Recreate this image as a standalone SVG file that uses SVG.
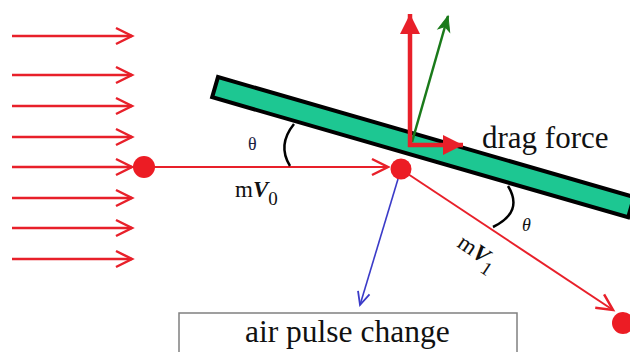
<svg xmlns="http://www.w3.org/2000/svg" width="630" height="352" viewBox="0 0 630 352">
<defs>
<style>
.flow{stroke:#e8202a;stroke-width:2.5;fill:none;marker-end:url(#chev)}
.ray{stroke:#e8202a;stroke-width:2;fill:none;marker-end:url(#chev)}
.dot{fill:#ec1c24}
.arc{stroke:#000;stroke-width:2.5;fill:none}
</style>
<marker id="chev" markerUnits="userSpaceOnUse" markerWidth="40" markerHeight="40" refX="0" refY="0" orient="auto" overflow="visible" viewBox="-20 -20 40 40">
<path d="M-16,-8 L0,0 L-16,8" fill="none" stroke="#e8202a" stroke-width="2.5" stroke-linejoin="miter"/>
</marker>
<marker id="chevB" markerUnits="userSpaceOnUse" markerWidth="40" markerHeight="40" refX="0" refY="0" orient="auto" overflow="visible" viewBox="-20 -20 40 40">
<path d="M-13,-6 L0,0 L-13,6" fill="none" stroke="#3b3bc8" stroke-width="1.8"/>
</marker>
<marker id="headR" markerUnits="userSpaceOnUse" markerWidth="40" markerHeight="40" refX="0" refY="0" orient="auto" overflow="visible" viewBox="-30 -20 40 40">
<path d="M-20,-10 L0,0 L-20,10 Z" fill="#e8202a"/>
</marker>
<marker id="headG" markerUnits="userSpaceOnUse" markerWidth="40" markerHeight="40" refX="0" refY="0" orient="auto" overflow="visible" viewBox="-30 -20 40 40">
<path d="M-15,-6 L0,0 L-15,6 L-11,0 Z" fill="#1a7a1a" stroke="#1a7a1a" stroke-width="1"/>
</marker>
</defs>
<rect width="630" height="352" fill="#fff"/>

<g id="plate">
<rect x="0" y="0" width="433" height="21" transform="translate(218,77) rotate(16.1)" fill="#1dc792" stroke="#000" stroke-width="4"/>
</g>

<g id="connectors">
<line class="flow" x1="12" y1="36" x2="132" y2="36"/>
<line class="flow" x1="12" y1="75" x2="132" y2="75"/>
<line class="flow" x1="12" y1="106" x2="132" y2="106"/>
<line class="flow" x1="12" y1="137" x2="132" y2="137"/>
<line class="flow" x1="12" y1="167" x2="132" y2="167"/>
<line class="flow" x1="12" y1="198" x2="132" y2="198"/>
<line class="flow" x1="12" y1="228" x2="132" y2="228"/>
<line class="flow" x1="12" y1="259" x2="132" y2="259"/>
<line class="ray" x1="144" y1="167" x2="388" y2="167"/>
<line class="ray" x1="408" y1="174" x2="613" y2="310"/>
<line x1="398" y1="179" x2="360" y2="305" stroke="#3b3bc8" stroke-width="1.6" marker-end="url(#chevB)"/>
<line x1="412" y1="142" x2="448" y2="16" stroke="#1a7a1a" stroke-width="2.5" marker-end="url(#headG)"/>
<line x1="410" y1="147" x2="410" y2="14" stroke="#e8202a" stroke-width="4.5" marker-end="url(#headR)"/>
<line x1="408" y1="145" x2="463" y2="145" stroke="#e8202a" stroke-width="4.5" marker-end="url(#headR)"/>
</g>

<g id="particle-in"><circle class="dot" cx="144" cy="167" r="11"/></g>
<g id="particle-hit"><circle class="dot" cx="401" cy="169" r="10.5"/></g>
<g id="particle-out"><circle class="dot" cx="623" cy="323" r="11"/></g>

<g id="angle-in">
<path class="arc" d="M290,166 Q277,145 294,124"/>
<text x="248" y="150" font-family="Liberation Serif, serif" font-size="18" fill="#1a2040">θ</text>
</g>
<g id="angle-out">
<path class="arc" d="M508,186 Q524,212 493,227"/>
<text x="522" y="231" font-family="Liberation Serif, serif" font-size="18" font-style="italic" fill="#111">θ</text>
</g>

<g id="label-mv0">
<text x="235" y="197" font-family="Liberation Serif, serif" font-size="23" fill="#111">m<tspan font-weight="bold" font-style="italic">V</tspan><tspan font-size="19" dy="8">0</tspan></text>
</g>
<g id="label-mv1">
<text transform="translate(456,246) rotate(34)" font-family="Liberation Serif, serif" font-size="23" fill="#111">m<tspan font-weight="bold" font-style="italic">V</tspan><tspan font-size="19" dy="8">1</tspan></text>
</g>
<g id="label-drag">
<text x="482" y="148" font-family="Liberation Serif, serif" font-size="31" fill="#111">drag force</text>
</g>

<g id="box-pulse">
<rect x="179" y="313" width="338" height="60" fill="#fff" stroke="#808080" stroke-width="1.5"/>
<text x="245" y="342" font-family="Liberation Serif, serif" font-size="31.5" fill="#111">air pulse change</text>
</g>
</svg>
